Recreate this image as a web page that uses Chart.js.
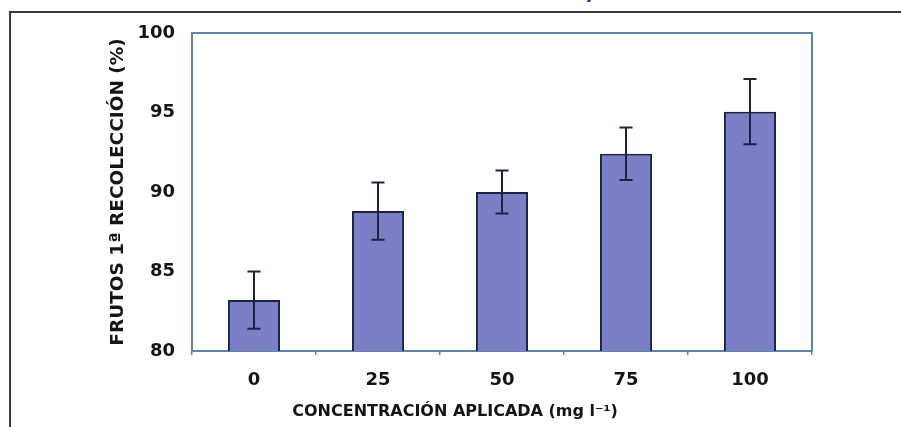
<!DOCTYPE html>
<html>
<head>
<meta charset="utf-8">
<script src="https://cdn.jsdelivr.net/npm/chart.js@4"></script>
<style>
  html, body { margin: 0; padding: 0; background: #fff; }
  #wrap { position: relative; width: 901px; height: 427px; overflow: hidden; background: #fff; }
  #frame { position: absolute; left: 9px; top: 11px; right: -10px; bottom: -10px;
           border-top: 2px solid #3a3a3a; border-left: 2px solid #3a3a3a; }
  #cut { position: absolute; left: 586px; top: -18px; font: bold 17px "DejaVu Sans"; color: #2a2aa0; }
  canvas { position: absolute; left: 0; top: 0; }
</style>
</head>
<body>
<div id="wrap">
  <div id="frame"></div>
  <div id="cut">p</div>
  <canvas id="c" width="901" height="427"></canvas>
</div>
<script>
const categories = ['0', '25', '50', '75', '100'];
const means = [83.2, 88.8, 90.0, 92.4, 95.05];
const errors = [1.8, 1.8, 1.35, 1.65, 2.05];
const yTicks = [80, 85, 90, 95, 100];
const xTitle = 'CONCENTRACIÓN APLICADA (mg l⁻¹)';
const yTitle = 'FRUTOS 1ª RECOLECCIÓN (%)';

const FONT = '"DejaVu Sans", Verdana, sans-serif';
const AXIS = '#5f83aa';
const INK = '#151515';

const errorBars = {
  id: 'errorBars',
  afterDatasetsDraw(chart) {
    const { ctx } = chart;
    const meta = chart.getDatasetMeta(0);
    const ys = chart.scales.y;
    ctx.save();
    ctx.strokeStyle = '#1b2340';
    ctx.lineWidth = 2;
    meta.data.forEach((bar, i) => {
      const x = bar.x;
      const top = ys.getPixelForValue(means[i] + errors[i]);
      const bot = ys.getPixelForValue(means[i] - errors[i]);
      ctx.beginPath();
      ctx.moveTo(x, top); ctx.lineTo(x, bot);
      ctx.moveTo(x - 6.5, top); ctx.lineTo(x + 6.5, top);
      ctx.moveTo(x - 6.5, bot); ctx.lineTo(x + 6.5, bot);
      ctx.stroke();
    });
    ctx.restore();
  }
};

const plotBox = {
  id: 'plotBox',
  beforeDatasetsDraw(chart) {
    const { ctx, chartArea: a } = chart;
    ctx.save();
    ctx.strokeStyle = AXIS;
    ctx.lineWidth = 2;
    ctx.strokeRect(a.left, a.top, a.right - a.left, a.bottom - a.top);
    ctx.restore();
  }
};

// x-axis title, placed slightly left of the plot centre as in the original
const xTitlePlugin = {
  id: 'xTitlePlugin',
  afterDraw(chart) {
    const { ctx, chartArea: a } = chart;
    ctx.save();
    ctx.font = 'bold 16px ' + FONT;
    ctx.fillStyle = INK;
    ctx.textAlign = 'center';
    ctx.textBaseline = 'middle';
    ctx.fillText(xTitle, (a.left + a.right) / 2 - 47, 412);
    ctx.restore();
  }
};

new Chart(document.getElementById('c'), {
  type: 'bar',
  data: {
    labels: categories,
    datasets: [{
      data: means,
      backgroundColor: '#7b7fc6',
      borderColor: '#1b2340',
      borderWidth: 2,
      borderSkipped: false,
      barPercentage: 0.42,
      categoryPercentage: 1.0
    }]
  },
  options: {
    responsive: false,
    animation: false,
    events: [],
    layout: { padding: { left: 100, top: 33, right: 89, bottom: 0 } },
    plugins: { legend: { display: false }, tooltip: { enabled: false } },
    scales: {
      x: {
        afterFit(s) { s.height = 76; },
        grid: { display: true, drawOnChartArea: false, drawTicks: true, tickLength: 4, color: AXIS, offset: true, lineWidth: 1.5 },
        border: { display: true, color: AXIS, width: 2 },
        ticks: { font: { family: FONT, size: 18, weight: 'bold' }, color: INK, padding: 15 },
        title: { display: false }
      },
      y: {
        min: 80, max: 100,
        afterFit(s) { s.width = 92; },
        afterBuildTicks(s) { s.ticks = yTicks.map(v => ({ value: v })); },
        grid: { display: true, drawOnChartArea: false, drawTicks: false },
        border: { display: true, color: AXIS, width: 2 },
        ticks: { font: { family: FONT, size: 18, weight: 'bold' }, color: INK, padding: 17 },
        title: { display: true, text: yTitle, font: { family: FONT, size: 18.5, weight: 'bold' }, color: INK, padding: { top: 7, bottom: 0 } }
      }
    }
  },
  plugins: [plotBox, errorBars, xTitlePlugin]
});
</script>
</body>
</html>
